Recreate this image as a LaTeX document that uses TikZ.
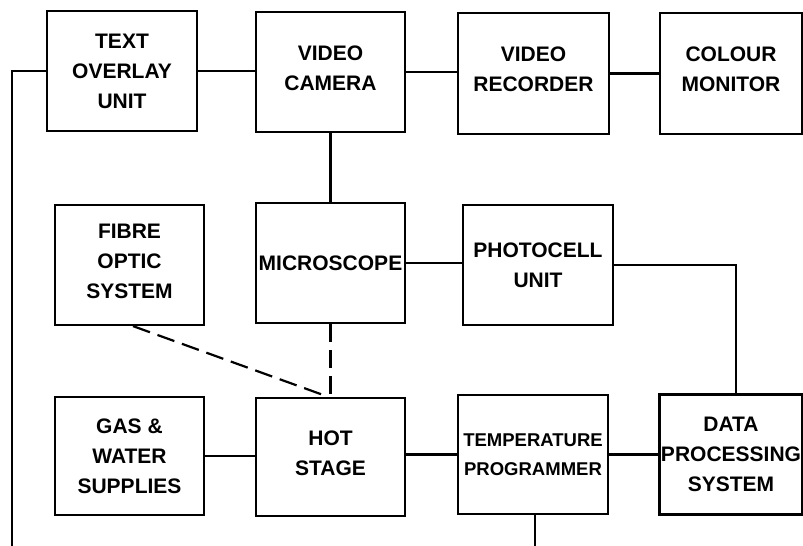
\documentclass[tikz,border=0pt]{standalone}
\usepackage{fontspec}
\setmainfont{Liberation Sans}
\newcommand{\upfix}{\\[-22pt]\mbox{}}
\begin{document}
\begin{tikzpicture}[x=1pt,y=-1pt,
  box/.style={draw,line width=2.2pt,inner sep=0pt,align=center,
    font=\bfseries\fontsize{21}{30}\selectfont},
  wire/.style={line width=2.2pt},
  dwire/.style={line width=2.2pt,dash pattern=on 18pt off 8pt}]
\useasboundingbox (0,0) rectangle (803,546);
% top row
\node[box,minimum width=150pt,minimum height=120pt] (tou) at (122,71) {TEXT\\OVERLAY\\UNIT};
\node[box,minimum width=149pt,minimum height=120pt] (vc) at (330.5,72) {VIDEO\\CAMERA\upfix};
\node[box,minimum width=151pt,minimum height=121pt] (vr) at (533.5,73.5) {VIDEO\\RECORDER\upfix};
\node[box,minimum width=142pt,minimum height=121pt] (cm) at (731,73.5) {COLOUR\\MONITOR\upfix};
% middle row
\node[box,minimum width=149pt,minimum height=120pt] (fos) at (129.5,265) {FIBRE\\OPTIC\\SYSTEM\upfix};
\node[box,minimum width=149pt,minimum height=120pt] (mic) at (330.5,263) {MICROSCOPE};
\node[box,minimum width=150pt,minimum height=120pt] (pc) at (538,265) {PHOTOCELL\\UNIT};
% bottom row
\node[box,minimum width=149pt,minimum height=118pt] (gas) at (129.5,456) {GAS \&\\WATER\\SUPPLIES};
\node[box,minimum width=149pt,minimum height=118pt] (hs) at (330.5,457) {HOT\\STAGE\upfix};
\node[box,minimum width=150pt,minimum height=119pt,font=\bfseries\fontsize{18.5}{29}\selectfont] (tp) at (533,454.5) {TEMPERATURE\\PROGRAMMER};
\node[box,minimum width=143pt,minimum height=120pt] (dp) at (731,454.5) {DATA\\PROCESSING\\SYSTEM};
% free ends
\coordinate (lb) at (12,546);
\coordinate (tb) at (535,546);
\coordinate (pd) at (736,263);
% connectors
\draw[wire] (tou.west) -| (lb);
\draw[wire] (tou.east) -- (tou.east -| vc.west);
\draw[wire] (vc.east) -- (vc.east -| vr.west);
\draw[wire] (vr.east) -- (vr.east -| cm.west);
\draw[wire] (vc.south) -- (mic.north);
\draw[wire] (mic.east) -- (mic.east -| pc.west);
\draw[wire] (pc.east) -| (dp.north -| pd);
\draw[wire] (gas.east) -- (gas.east -| hs.west);
\draw[wire] (tp.west) -- (tp.west -| hs.east);
\draw[wire] (tp.east) -- (tp.east -| dp.west);
\draw[wire] (tp.south -| tb) -- (tb);
\draw[dwire] (mic.south) -- (hs.north);
\draw[dwire] ([xshift=3.5pt]fos.south) -- ([xshift=-2pt]hs.north);
\end{tikzpicture}
\end{document}
